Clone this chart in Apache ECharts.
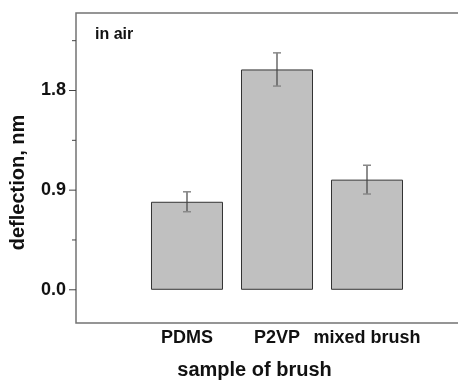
<!DOCTYPE html>
<html>
<head>
<meta charset="utf-8">
<script src="https://cdn.jsdelivr.net/npm/echarts@6/dist/echarts.min.js"></script>
<style>
  html, body { margin: 0; padding: 0; background: #fff; }
  #chart { width: 458px; height: 381px; }
</style>
</head>
<body>
<div id="chart"></div>
<script>
// samples and their measured deflection (nm) with error
const samples = ["PDMS", "P2VP", "mixed brush"];
const samplePos = [1, 2, 3];
const deflection = [0.795, 1.99, 0.995];
const deflectionErr = [0.09, 0.15, 0.13];
const majorTicks = [0, 0.9, 1.8];
const minorTicks = [0.45, 1.35, 2.25];

const font = '"Liberation Sans", Arial, sans-serif';
const chart = echarts.init(document.getElementById("chart"), null, { renderer: "canvas" });

const barData = samplePos.map((x, i) => [x, deflection[i]]);
const errData = samplePos.map((x, i) => [x, deflection[i] - deflectionErr[i], deflection[i] + deflectionErr[i]]);

chart.setOption({
  backgroundColor: "#fff",
  animation: false,
  textStyle: { fontFamily: font },
  grid: {
    left: 76,
    right: -2,
    top: 13,
    bottom: 58,
    outerBoundsMode: "none",
    containLabel: false,
    show: true,
    borderColor: "#737373",
    borderWidth: 1.5,
  },
  graphic: [
    {
      type: "text",
      left: 95,
      top: 27,
      style: { text: "in air", font: "bold 16px " + font, fill: "#111" },
    },
  ],
  xAxis: {
    type: "value",
    min: -0.2333,
    max: 4.0333,
    name: "sample of brush",
    nameLocation: "middle",
    nameGap: 37,
    nameTextStyle: { fontSize: 20, fontWeight: "bold", color: "#111", padding: [0, 27, 0, 0] },
    axisLine: { show: false },
    axisTick: { show: false },
    splitLine: { show: false },
    axisLabel: {
      customValues: samplePos,
      formatter: (v) => samples[samplePos.indexOf(Math.round(v))] || "",
      fontSize: 18,
      fontWeight: "bold",
      color: "#111",
      margin: 6,
    },
  },
  yAxis: {
    type: "value",
    min: -0.3,
    max: 2.5,
    name: "deflection, nm",
    nameLocation: "middle",
    nameGap: 48,
    nameTextStyle: { fontSize: 20, fontWeight: "bold", color: "#111", padding: [0, 0, 0, -29] },
    axisLine: { show: false },
    splitLine: { show: false },
    axisTick: { show: false },
    axisLabel: {
      customValues: majorTicks,
      formatter: (v) => v.toFixed(1),
      fontSize: 18,
      fontWeight: "bold",
      color: "#111",
      margin: 10,
    },
  },
  series: [
    {
      type: "bar",
      data: barData,
      barWidth: 72,
      itemStyle: { color: "#c0c0c0", borderColor: "#333", borderWidth: 1 },
      z: 2,
    },
    {
      type: "custom",
      data: errData,
      z: 3,
      renderItem(params, api) {
        const x = api.value(0);
        const lo = api.coord([x, api.value(1)]);
        const hi = api.coord([x, api.value(2)]);
        const half = 4;
        return {
          type: "group",
          children: [
            { type: "line", shape: { x1: hi[0], y1: hi[1], x2: lo[0], y2: lo[1] }, style: { stroke: "#444", lineWidth: 1.2 } },
            { type: "line", shape: { x1: hi[0] - half, y1: hi[1], x2: hi[0] + half, y2: hi[1] }, style: { stroke: "#888", lineWidth: 1.5 } },
            { type: "line", shape: { x1: lo[0] - half, y1: lo[1], x2: lo[0] + half, y2: lo[1] }, style: { stroke: "#888", lineWidth: 1.5 } },
          ],
        };
      },
    },
    {
      // y 轴刻度线（主刻度长、次刻度短）
      type: "custom",
      clip: false,
      silent: true,
      data: majorTicks.map((v) => [v, 7]).concat(minorTicks.map((v) => [v, 4])),
      encode: { y: 0 },
      z: 4,
      renderItem(params, api) {
        const p = api.coord([-0.2333, api.value(0)]);
        const len = api.value(1);
        return {
          type: "line",
          shape: { x1: p[0] - len, y1: p[1], x2: p[0], y2: p[1] },
          style: { stroke: "#444", lineWidth: 1 },
        };
      },
    },
  ],
});
</script>
</body>
</html>
